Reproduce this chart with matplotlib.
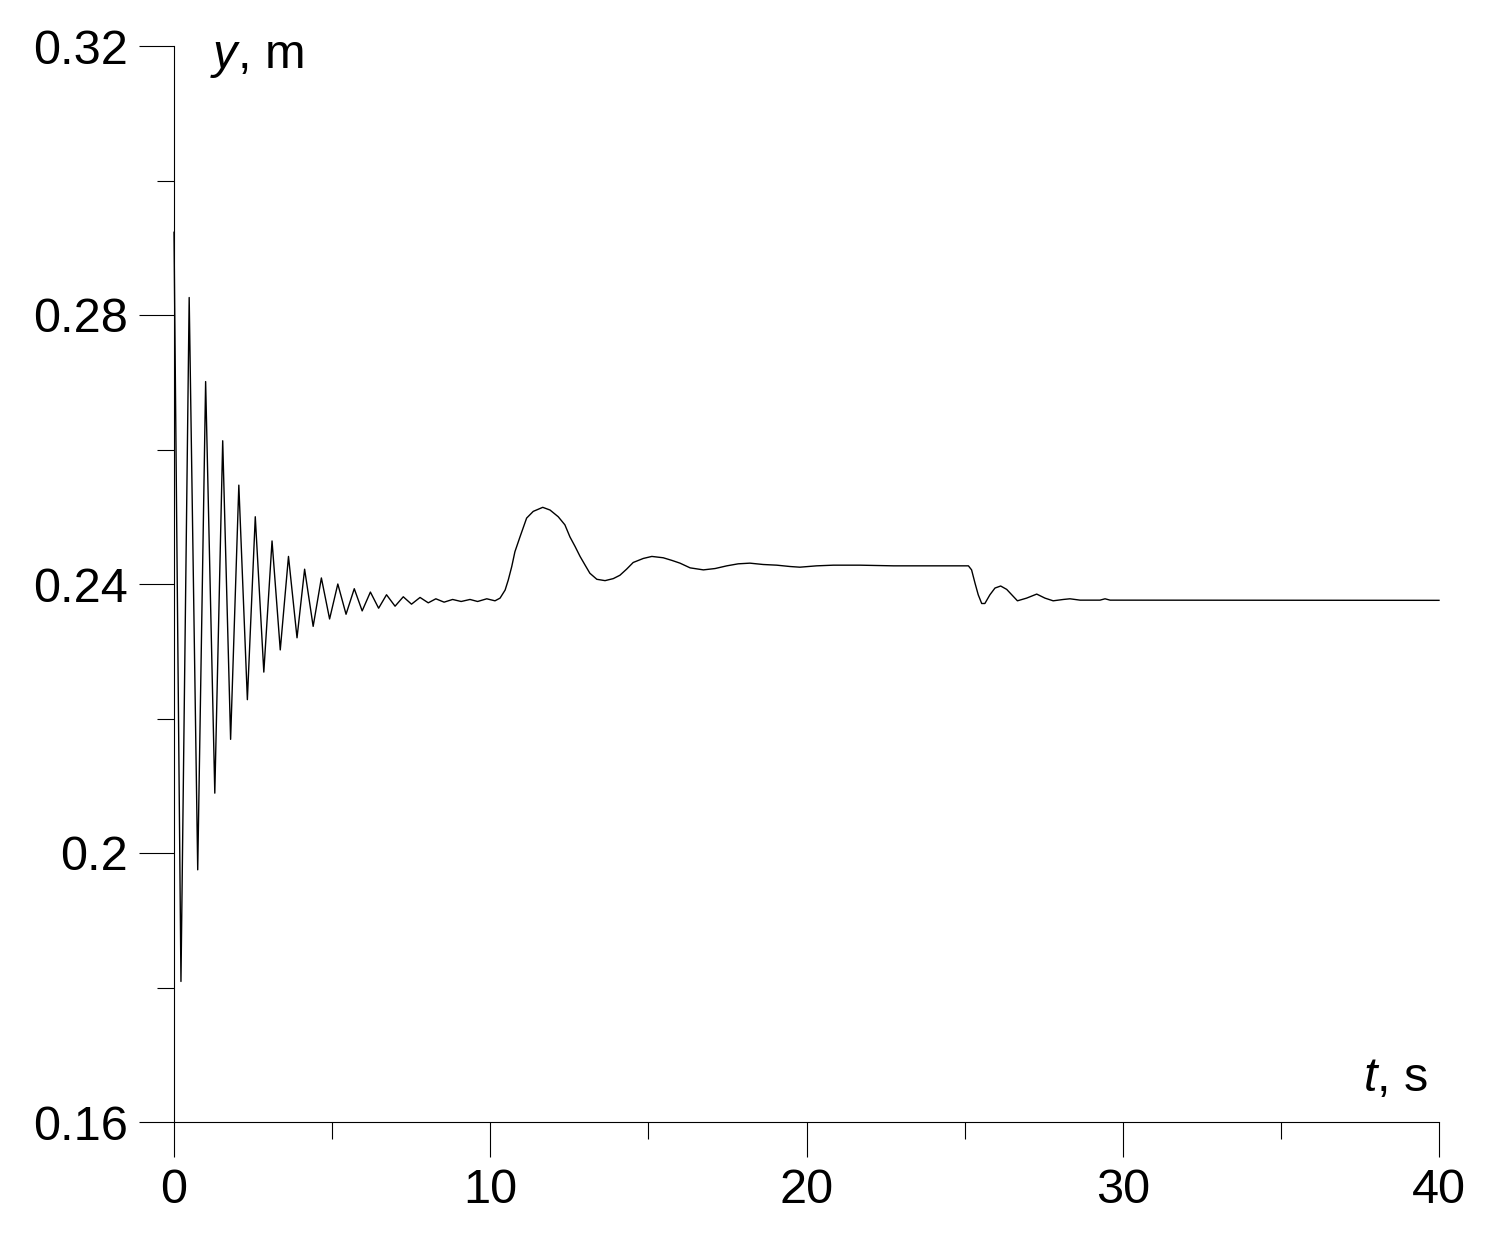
import matplotlib
matplotlib.use("Agg")
import matplotlib.pyplot as plt
from matplotlib.ticker import FixedLocator, FuncFormatter

plt.rcParams['font.family'] = ['Liberation Sans', 'DejaVu Sans']
plt.rcParams['mathtext.fontset'] = 'custom'
plt.rcParams['mathtext.it'] = 'Liberation Sans:italic'
plt.rcParams['mathtext.rm'] = 'Liberation Sans'

# data
t = [0.0, 0.22, 0.48, 0.75, 1.0, 1.29, 1.54, 1.79, 2.05, 2.32, 2.57, 2.84,
     3.10, 3.36, 3.62, 3.89, 4.13, 4.40, 4.66, 4.92, 5.18, 5.44, 5.70, 5.95,
     6.21, 6.47, 6.72, 6.99, 7.25, 7.51, 7.78, 8.04, 8.28, 8.54, 8.81, 9.08,
     9.36, 9.60, 9.89, 10.15, 10.31, 10.47, 10.57, 10.68, 10.78, 10.94, 11.15,
     11.36, 11.66, 11.89, 12.15, 12.36, 12.52, 12.68, 12.84, 13.00, 13.15,
     13.37, 13.63, 13.89, 14.10, 14.31, 14.52, 14.84, 15.11, 15.47, 15.75,
     16.0, 16.32, 16.74, 17.11, 17.48, 17.84, 18.21, 18.63, 19.06, 19.48,
     19.79, 20.32, 20.85, 21.69, 22.75, 25.07, 25.12, 25.22, 25.33, 25.43,
     25.54, 25.64, 25.80, 25.96, 26.14, 26.33, 26.49, 26.67, 26.96, 27.28,
     27.54, 27.80, 28.12, 28.33, 28.65, 29.28, 29.44, 29.60, 40.0]
y = [0.2923, 0.1809, 0.2826, 0.1975, 0.2701, 0.2089, 0.2613, 0.2169, 0.2547,
     0.2228, 0.2500, 0.2269, 0.2464, 0.2302, 0.2441, 0.2320, 0.2422, 0.2337,
     0.2409, 0.2348, 0.2400, 0.2355, 0.2393, 0.2360, 0.2388, 0.2364, 0.2384,
     0.2367, 0.2381, 0.2370, 0.2380, 0.2372, 0.2378, 0.2373, 0.2377, 0.2374,
     0.2377, 0.2374, 0.2378, 0.2375, 0.2379, 0.2391, 0.2406, 0.2426, 0.2448,
     0.2470, 0.2498, 0.2508, 0.2514, 0.2510, 0.2500, 0.2488, 0.2470, 0.2456,
     0.2441, 0.2428, 0.2416, 0.2407, 0.2405, 0.2408, 0.2413, 0.2422, 0.2432,
     0.2438, 0.2441, 0.2439, 0.2435, 0.2431, 0.2424, 0.2421, 0.2423, 0.2427,
     0.2430, 0.2431, 0.2429, 0.2428, 0.2426, 0.2425, 0.2427, 0.2428, 0.2428,
     0.2427, 0.2427, 0.2427, 0.2421, 0.2401, 0.2384, 0.2371, 0.2371, 0.2384,
     0.2394, 0.2397, 0.2392, 0.2384, 0.2375, 0.2379, 0.2385, 0.2379, 0.2375,
     0.2377, 0.2378, 0.2376, 0.2376, 0.2378, 0.2376, 0.23757]

x_major = [0, 10, 20, 30, 40]
x_minor = [5, 15, 25, 35]
y_major = [0.16, 0.20, 0.24, 0.28, 0.32]
y_minor = [0.18, 0.22, 0.26, 0.30]

fig = plt.figure(figsize=(14.97, 12.46), dpi=100)
ax = fig.add_axes([174/1497, 1 - 1122/1246, (1439 - 174)/1497, (1122 - 46)/1246])

ax.plot(t, y, color='black', lw=1.0, clip_on=False)

ax.set_xlim(0, 40)
ax.set_ylim(0.16, 0.32)
for s in ['top', 'right']:
    ax.spines[s].set_visible(False)
for s in ['left', 'bottom']:
    ax.spines[s].set_linewidth(0.8)

ax.xaxis.set_major_locator(FixedLocator(x_major))
ax.xaxis.set_minor_locator(FixedLocator(x_minor))
ax.yaxis.set_major_locator(FixedLocator(y_major))
ax.yaxis.set_minor_locator(FixedLocator(y_minor))
ax.yaxis.set_major_formatter(FuncFormatter(lambda v, p: f"{v:g}"))
ax.xaxis.set_major_formatter(FuncFormatter(lambda v, p: f"{v:g}"))

ax.tick_params(which='major', direction='out', length=25, width=0.8,
               labelsize=35, pad=8)
ax.tick_params(which='minor', direction='out', length=12.5, width=0.8)

ax.text(210/1497, 1 - 68/1246, "$y$, m", transform=fig.transFigure,
        fontsize=35, ha='left', va='baseline')
ax.text(1428/1497, 1 - 1091/1246, "$t$, s", transform=fig.transFigure,
        fontsize=35, ha='right', va='baseline')

fig.savefig("out.png", dpi=100)
